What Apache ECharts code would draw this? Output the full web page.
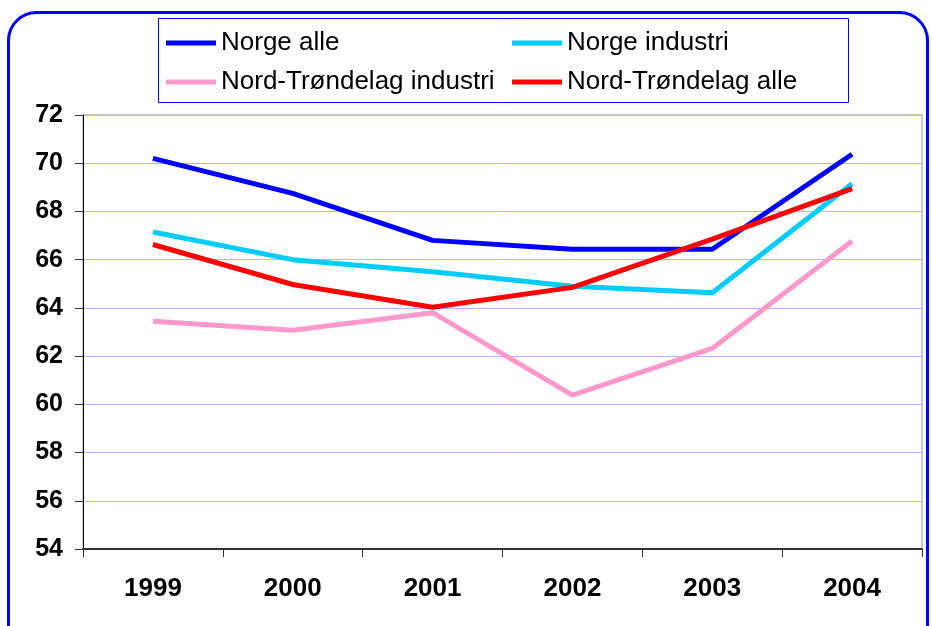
<!DOCTYPE html>
<html>
<head>
<meta charset="utf-8">
<script src="https://cdn.jsdelivr.net/npm/echarts@6/dist/echarts.min.js"></script>
<style>
  html, body { margin: 0; padding: 0; background: #fff; }
  #chart { width: 931px; height: 626px; }
</style>
</head>
<body>
<div id="chart"></div>
<script>
// år på x-aksen
var years = ['1999', '2000', '2001', '2002', '2003', '2004'];

// verdier lest av figuren
var norgeAlle = [70.2, 68.75, 66.8, 66.43, 66.43, 70.37];
var norgeIndustri = [67.15, 66.0, 65.5, 64.9, 64.63, 69.15];
var ntIndustri = [63.45, 63.07, 63.8, 60.38, 62.32, 66.77];
var ntAlle = [66.63, 64.97, 64.03, 64.85, 66.85, 68.95];

var yTicks = { min: 54, max: 72, step: 2 };

var font = 'Liberation Sans, Arial, sans-serif';

var chart = echarts.init(document.getElementById('chart'));

function line(name, data, color) {
    return {
        name: name,
        type: 'line',
        data: data,
        symbol: 'none',
        smooth: false,
        lineStyle: { color: color, width: 5 },
        itemStyle: { color: color },
        animation: false
    };
}

var legendText = { fontFamily: font, fontSize: 26, color: '#000', lineHeight: 26 };

function legendCol(items, left) {
    return {
        data: items,
        orient: 'vertical',
        left: left,
        top: 30,
        padding: 0,
        itemGap: 13,
        icon: 'rect',
        itemWidth: 50,
        itemHeight: 5,
        textStyle: legendText
    };
}

var option = {
    backgroundColor: '#fff',
    animation: false,
    graphic: [
        {
            type: 'rect',
            shape: { x: 8.5, y: 12.5, width: 919, height: 640, r: 28 },
            style: { fill: 'none', stroke: '#0000ff', lineWidth: 3 }
        },
        {
            type: 'rect',
            shape: { x: 158.5, y: 18.5, width: 690, height: 84 },
            style: { fill: 'none', stroke: '#0000ff', lineWidth: 1 }
        }
    ],
    legend: [
        legendCol(['Norge alle', 'Nord-Trøndelag industri'], 166),
        legendCol(['Norge industri', 'Nord-Trøndelag alle'], 512)
    ],
    grid: {
        left: 83,
        right: 9,
        top: 115,
        bottom: 77,
        show: true,
        borderColor: '#999',
        borderWidth: 1,
        containLabel: false
    },
    xAxis: {
        type: 'category',
        data: years,
        boundaryGap: true,
        axisLine: { lineStyle: { color: '#333', width: 2 } },
        axisTick: { show: true, length: 8, lineStyle: { color: '#333' } },
        axisLabel: {
            margin: 27,
            fontFamily: font,
            fontSize: 26,
            fontWeight: 'bold',
            color: '#000'
        },
        splitLine: { show: false }
    },
    yAxis: {
        type: 'value',
        min: yTicks.min,
        max: yTicks.max,
        interval: yTicks.step,
        axisLine: { show: true, lineStyle: { color: '#000', width: 1 } },
        axisTick: { show: true, length: 8, lineStyle: { color: '#333' } },
        axisLabel: {
            margin: 20,
            fontFamily: font,
            fontSize: 25,
            fontWeight: 'bold',
            color: '#000'
        },
        splitLine: { show: true, lineStyle: { color: '#b4b4ff', width: 1 } }
    },
    series: [
        line('Norge alle', norgeAlle, '#0000ff'),
        line('Norge industri', norgeIndustri, '#00ccff'),
        line('Nord-Trøndelag industri', ntIndustri, '#ff99cc'),
        line('Nord-Trøndelag alle', ntAlle, '#ff0000')
    ]
};

chart.setOption(option);
</script>
</body>
</html>
